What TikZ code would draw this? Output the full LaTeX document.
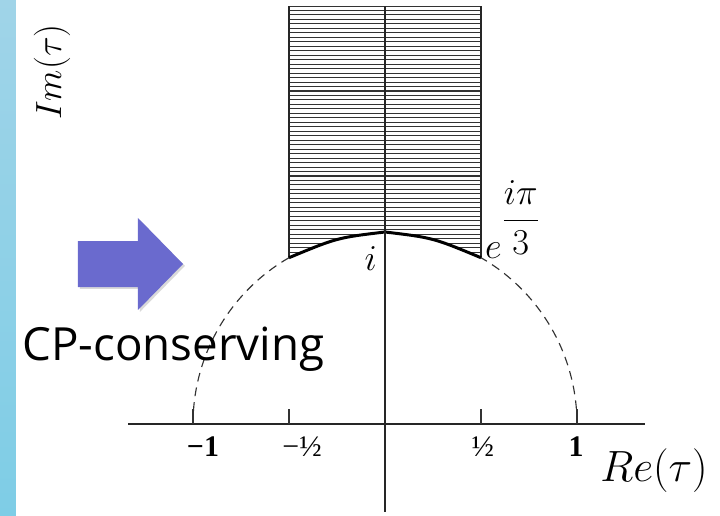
\documentclass[tikz,border=0pt]{standalone}
\usepackage{fontspec}
\newfontfamily\tickfont{Liberation Serif}
\newfontfamily\cpfont{Open Sans}
\begin{document}
\begin{tikzpicture}[
    x=3.84cm, y=3.84cm,
    axisline/.style={line width=1.1pt, black!85},
    tickline/.style={line width=0.6pt, black!80},
    hatch/.style={line width=0.6pt, black!80},
    sideline/.style={line width=1.6pt, black!85},
    boundary/.style={line width=1.7pt, black},
    circ/.style={line width=0.65pt, black!80, dash pattern=on 5pt off 3.5pt},
    tlbl/.style={font=\fontsize{17}{20}\selectfont\tickfont},
    ptlbl/.style={font=\fontsize{20}{24}\selectfont},
    axlbl/.style={font=\fontsize{25}{30}\selectfont},
    arrowfill/.style={fill={rgb,255:red,106;green,106;blue,206}}
]

% Frame and side strip
\useasboundingbox (-2.0052,-0.4740) rectangle (1.7448,2.2083);
\shade[top color={rgb,255:red,160;green,212;blue,232}, bottom color={rgb,255:red,126;green,205;blue,230}]
    (-2.0052,-0.4740) rectangle (-1.9219,2.2083);

% Fundamental domain
\begin{scope}
\clip (-0.5,2.177) -- (-0.5,0.866) .. controls (-0.25,0.97) .. (0,1)
    .. controls (0.25,0.97) .. (0.5,0.866) -- (0.5,2.177) -- cycle;
\foreach \k in {0,...,58}
    \draw[hatch] (-0.5,{2.177-\k*0.0233}) -- (0.5,{2.177-\k*0.0233});
\end{scope}
\draw[sideline] (-0.5,0.866) -- (-0.5,2.177);
\draw[sideline] (0.5,0.866) -- (0.5,2.177);
\draw[boundary, line join=round] (120:1) .. controls (-0.25,0.97) .. (0,1)
    .. controls (0.25,0.97) .. (60:1);

% Unit circle
\draw[circ] (1,0) arc[start angle=0, end angle=60, radius=1];
\draw[circ] (120:1) arc[start angle=120, end angle=180, radius=1];

% Axes
\draw[axisline] (-1.3385,0) -- (1.354,0);
\draw[axisline] (0,-0.458) -- (0,2.177);
\foreach \t in {-1,-0.5,0.5,1}
    \draw[tickline] (\t,0) -- (\t,0.078);

% Labels
\node[tlbl] (mone) at (-0.948,-0.12) {\bfseries −1};
\node[tlbl] (mhalf) at (-0.432,-0.12) {−½};
\node[tlbl] (phalf) at (0.51,-0.12) {½};
\node[tlbl] (pone) at (0.995,-0.12) {\bfseries 1};
\node[ptlbl] (ipt) at (-0.075,0.86) {$i$};
\node[ptlbl, anchor=base west, inner sep=0pt] (rho) at (0.52,0.862) {$e^{\displaystyle\frac{i\pi}{3}}$};
\node[axlbl] (retau) at (1.401,-0.245) {$Re(\tau)$};
\node[axlbl, font=\fontsize{22}{26}\selectfont, rotate=90] (imtau) at (-1.734,1.833) {$Im(\tau)$};

% Arrow and note
\fill[black, opacity=0.15] (-1.589,0.943) -- (-1.2765,0.943) -- (-1.2765,1.0629) -- (-1.042,0.8233)
    -- (-1.2765,0.5838) -- (-1.2765,0.7035) -- (-1.589,0.7035) -- cycle;
\fill[arrowfill] (-1.599,0.953) -- (-1.2865,0.953) -- (-1.2865,1.0729) -- (-1.052,0.8333)
    -- (-1.2865,0.59375) -- (-1.2865,0.7135) -- (-1.599,0.7135) -- cycle;
\node[font=\fontsize{26}{30}\selectfont\cpfont, anchor=base west, inner sep=0pt] (cp) at (-1.891,0.333) {CP-conserving};

\end{tikzpicture}
\end{document}
